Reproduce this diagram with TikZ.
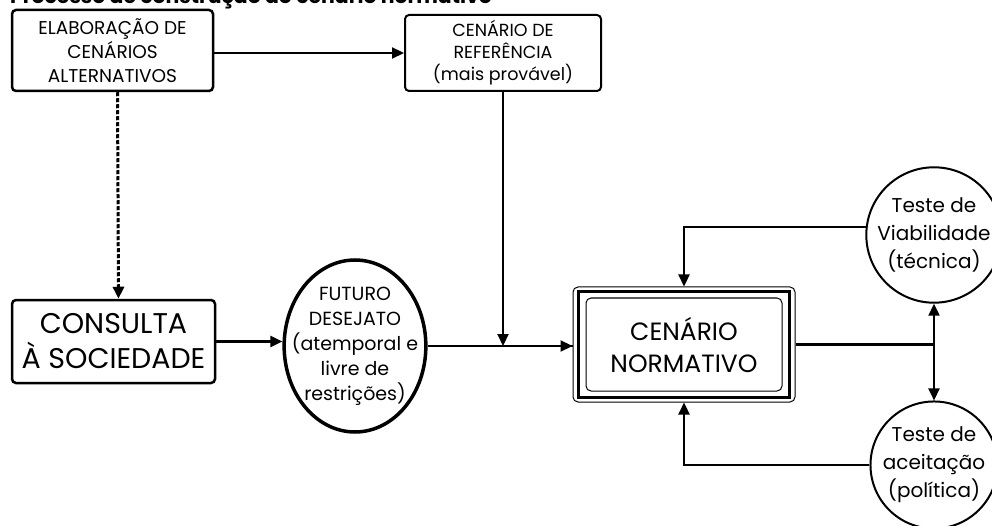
\documentclass[tikz,border=0pt]{standalone}
\usepackage{fontspec}
\setmainfont{Poppins}
\usetikzlibrary{arrows.meta,calc,shapes.geometric}
\tikzset{
  tip/.tip={Triangle[length=12pt,width=11pt]},
  conn/.style={line width=2.2pt,-tip},
  bx/.style={draw,line width=2.5pt,rounded corners=4pt,align=center,inner sep=0pt},
  circ/.style={draw,circle,line width=2pt,minimum size=124pt,inner sep=0pt,align=center,font=\fontsize{20}{28}\selectfont},
}
\begin{document}
\begin{tikzpicture}[x=1pt,y=-1pt]
\useasboundingbox (0,0) rectangle (992,526);
\node[anchor=base west,font=\bfseries\fontsize{20.4}{22}\selectfont,inner sep=0pt] (title) at (10,4) {Processo de construção do cenário normativo};
\node[bx,minimum width=201pt,minimum height=81pt,font=\fontsize{18.5}{24}\selectfont] (elab) at (112.5,50.5) {ELABORAÇÃO DE\\CENÁRIOS\\ALTERNATIVOS};
\node[bx,line width=2pt,minimum width=196pt,minimum height=76pt,font=\fontsize{17.5}{22}\selectfont] (ref) at (503,53) {CENÁRIO DE\\REFERÊNCIA\\(mais provável)};
\node[bx,minimum width=203pt,minimum height=83pt,font=\fontsize{28.5}{35}\selectfont] (cons) at (113.5,341.5) {CONSULTA\\À SOCIEDADE};
\node[draw,ellipse,line width=3.5pt,minimum width=134pt,minimum height=172pt,inner xsep=-13pt,inner ysep=-4pt,align=center,font=\fontsize{19}{25}\selectfont] (fut) at (355,346) {FUTURO\\DESEJATO\\(atemporal e\\livre de\\restrições)};
\node[draw,line width=1pt,rounded corners=5pt,minimum width=222pt,minimum height=115pt] (norm) at (684,344.5) {};
\node[draw,line width=3pt,minimum width=211pt,minimum height=105pt] (normb) at (norm.center) {};
\node[draw,line width=1pt,rounded corners=5pt,minimum width=196pt,minimum height=93pt,align=center,font=\fontsize{25}{32}\selectfont] (normc) at (norm.center) {CENÁRIO\\NORMATIVO};
\node[circ] (viab) at (934,235) {Teste de\\Viabilidade\\(técnica)};
\node[circ] (acei) at (934,465) {Teste de\\aceitação\\(política)};
\coordinate (j) at (ref.south |- fut.east);
\coordinate (k) at (viab.south |- norm.east);
\draw[conn] (elab.east |- ref.west) -- (ref.west);
\draw[conn,dashed,dash pattern=on 4pt off 2pt,line width=3pt] ([xshift=5pt]elab.south) -- ([xshift=5pt]cons.north);
\draw[conn] (cons.east) -- (fut.west |- cons.east);
\draw[conn,-] (fut.east) -- (fut.east -| norm.west);
\draw[conn] (j) -- (fut.east -| norm.west);
\draw[conn] (ref.south) -- (j);
\draw[conn] (viab.173) -| (norm.north);
\draw[conn] (acei.west) -| (norm.south);
\draw[line width=2.2pt] (norm.east) -- (k);
\draw[line width=2.2pt,tip-tip] (viab.south) -- (acei.north);
\end{tikzpicture}
\end{document}
